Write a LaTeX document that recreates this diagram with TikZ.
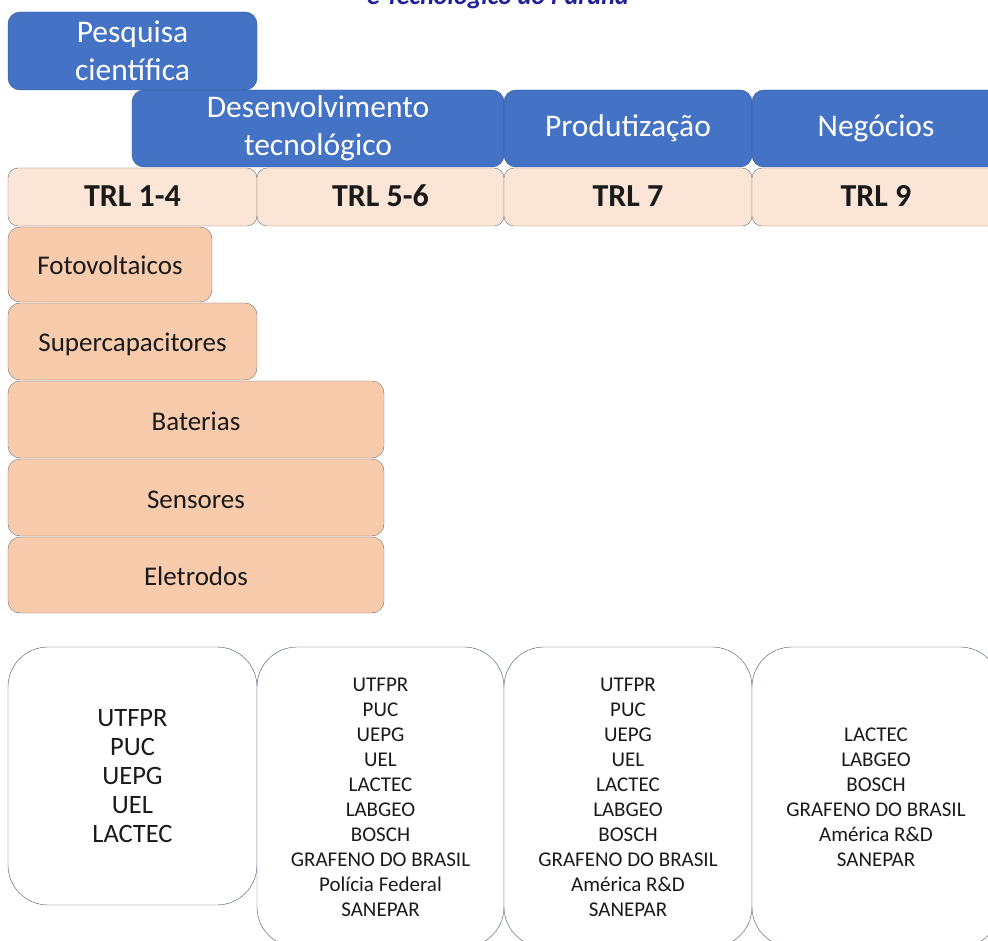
\documentclass[tikz,border=0pt]{standalone}
\usepackage{fontspec}
\setmainfont{Carlito}
\definecolor{azul}{HTML}{4472C4}
\definecolor{azulborda}{HTML}{2F528F}
\definecolor{pele}{HTML}{FBE5D6}
\definecolor{salmao}{HTML}{F8CBAD}
\definecolor{cinza}{HTML}{6E6E6E}
\definecolor{ardosia}{HTML}{44546A}
\definecolor{titulo}{HTML}{1F1F99}
\definecolor{escuro}{HTML}{1A1A1A}
\tikzset{
  fase/.style={draw=azulborda, fill=azul, text=white, rounded corners=12pt,
    align=center, inner sep=0pt, font=\fontsize{31.5}{38}\selectfont},
  trl/.style={draw=cinza, fill=pele, rounded corners=10pt, inner sep=0pt, text=escuro,
    minimum height=58pt, text height=21pt, text depth=1pt, font=\fontsize{32}{36}\selectfont\bfseries},
  tema/.style={draw=cinza, fill=salmao, rounded corners=12pt, inner sep=0pt, text=escuro,
    text height=21pt, text depth=0pt, font=\fontsize{27}{30}\selectfont},
  lista/.style={draw=ardosia, fill=white, rounded corners=40pt, align=center, text=escuro,
    inner sep=0pt, font=\fontsize{21}{25}\selectfont}
}
\begin{document}
\begin{tikzpicture}[x=1pt,y=-1pt]
	\useasboundingbox (0,0) rectangle (988,941);
	\clip (0,0) rectangle (988,941);
	%Titulo cortado
	\node[anchor=base, text=titulo, font=\fontsize{26}{30}\selectfont\bfseries\itshape] (titulo) at (498,5) {e Tecnológico do Paraná};
	%Fases
	\node[fase, minimum width=249pt, minimum height=78pt] (pesquisa) at (132.5,51) {Pesquisa\\científica};
	\node[fase, minimum width=372pt, minimum height=77pt] (desenv) at (318,128.5) {Desenvolvimento\\tecnológico};
	\node[fase, minimum width=248pt, minimum height=77pt] (produt) at (628,128.5) {Produtização};
	\node[fase, minimum width=248pt, minimum height=77pt] (negocios) at (876,128.5) {Negócios};
	%TRL
	\node[trl, minimum width=249pt] (trlA) at (132.5,197) {TRL 1-4};
	\node[trl, minimum width=247pt] (trlB) at (380.5,197) {TRL 5-6};
	\node[trl, minimum width=248pt] (trlC) at (628,197) {TRL 7};
	\node[trl, minimum width=248pt] (trlD) at (876,197) {TRL 9};
	%Temas
	\node[tema, minimum width=204pt, minimum height=75pt] (foto) at (110,264.5) {Fotovoltaicos};
	\node[tema, minimum width=249pt, minimum height=77pt] (super) at (132.5,341.5) {Supercapacitores};
	\node[tema, minimum width=376pt, minimum height=77pt] (bat) at (196,419.5) {Baterias};
	\node[tema, minimum width=376pt, minimum height=77pt] (sens) at (196,497.5) {Sensores};
	\node[tema, minimum width=376pt, minimum height=76pt] (eletr) at (196,575) {Eletrodos};
	%Parceiros
	\node[lista, minimum width=249pt, minimum height=258pt, font=\fontsize{26.5}{29}\selectfont] (parcA) at (132.5,776)
		{UTFPR\\PUC\\UEPG\\UEL\\LACTEC};
	\node[lista, minimum width=247pt, minimum height=300pt] (parcB) at (380.5,797)
		{UTFPR\\PUC\\UEPG\\UEL\\LACTEC\\LABGEO\\BOSCH\\GRAFENO DO BRASIL\\Polícia Federal\\SANEPAR};
	\node[lista, minimum width=248pt, minimum height=300pt] (parcC) at (628,797)
		{UTFPR\\PUC\\UEPG\\UEL\\LACTEC\\LABGEO\\BOSCH\\GRAFENO DO BRASIL\\América R\&D\\SANEPAR};
	\node[lista, minimum width=248pt, minimum height=300pt] (parcD) at (876,797)
		{LACTEC\\LABGEO\\BOSCH\\GRAFENO DO BRASIL\\América R\&D\\SANEPAR};
\end{tikzpicture}
\end{document}
